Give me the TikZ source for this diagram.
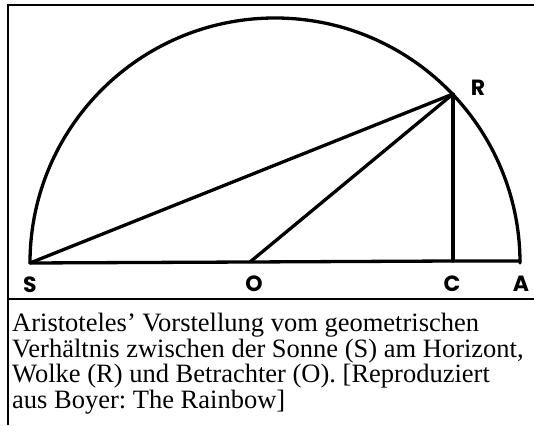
\documentclass[tikz,border=0pt]{standalone}
\usepackage{fontspec}
\setmainfont{Liberation Serif}
\newfontfamily\lblfont{Poppins}
\frenchspacing
\begin{document}
\begin{tikzpicture}[x=1pt,y=1pt,
  frame/.style={line width=2pt},
  geo/.style={line width=3.3pt,line cap=round,line join=round},
  lbl/.style={font=\lblfont\bfseries\fontsize{22}{22}\selectfont,inner sep=0pt},
  captxt/.style={font=\fontsize{26.5}{25.7}\selectfont,align=left,inner sep=0pt,anchor=north west}]
\useasboundingbox (0,0) rectangle (534,425);
% frame
\coordinate (fb) at (8,0);
\coordinate (ft) at (8,420);
\coordinate (fr) at (534,420);
\coordinate (sl) at (8,126);
\coordinate (sr) at (534,126);
\draw[frame] (fb) -- (ft) -- (fr);
\draw[frame] (sl) -- (sr);
% points
\coordinate (S) at (30,162);
\coordinate (O) at (250,163);
\coordinate (C) at (453,164);
\coordinate (A) at (520,164);
\coordinate (R) at (453,331);
% semicircle
\draw[geo] (S) arc[start angle=180,end angle=0,x radius=245,y radius=245];
\draw[geo] (S) -- (O) -- (C) -- (A);
\draw[geo] (S) -- (R);
\draw[geo] (O) -- (R);
\draw[geo] (C) -- (R);
% labels
\node[lbl] (lS) at (30,140) {S};
\node[lbl] (lO) at (254,141) {O};
\node[lbl] (lC) at (452,141) {C};
\node[lbl] (lA) at (521,141) {A};
\node[lbl] (lR) at (478,337) {R};
% caption
\node[captxt] (cap) at (12,112) {Aristoteles’ Vorstellung vom geometrischen\\
Verhältnis zwischen der Sonne (S) am Horizont,\\
Wolke (R) und Betrachter (O). [Reproduziert\\
aus Boyer: The Rainbow]};
\end{tikzpicture}
\end{document}
